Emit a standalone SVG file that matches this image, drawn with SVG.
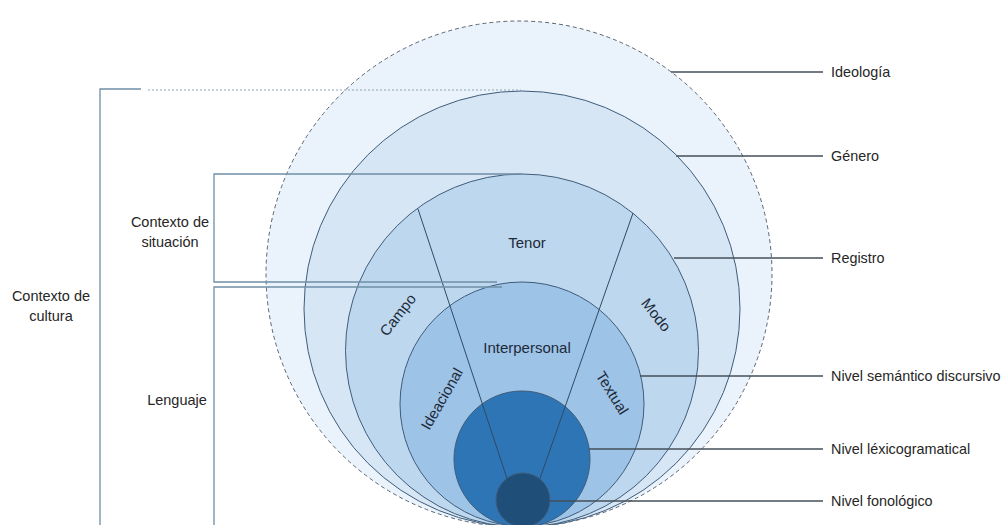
<svg xmlns="http://www.w3.org/2000/svg" width="1003" height="525" viewBox="0 0 1003 525">
<style>
.c{stroke:#3f5d7a;stroke-width:1}
.lead{stroke:#454f59;stroke-width:1.3;fill:none}
.br{stroke:#6f8ea6;stroke-width:1.3;fill:none}
.lbl{font-family:"Liberation Sans",Arial,sans-serif;font-size:14.4px;fill:#262626}
.in{font-family:"Liberation Sans",Arial,sans-serif;font-size:15px;fill:#1e2a3a;text-anchor:middle}
.lt{font-family:"Liberation Sans",Arial,sans-serif;font-size:14.5px;fill:#262626;text-anchor:middle}
</style>
<rect width="1003" height="525" fill="#ffffff"/>
<g id="ideologia"><circle cx="519" cy="274" r="253" fill="#eaf2fb" stroke="#5a6470" stroke-width="1" stroke-dasharray="4,3"/></g>
<g id="genero"><circle cx="522" cy="309" r="218" fill="#d7e6f5" class="c"/></g>
<g id="registro"><circle cx="522" cy="350.5" r="176.5" fill="#bdd7ee" class="c"/></g>
<g id="semantico"><circle cx="522" cy="404" r="122" fill="#9dc3e6" class="c"/></g>
<g id="lexico"><circle cx="522" cy="459" r="68" fill="#2e75b6" class="c"/></g>
<g id="connectors">
<line x1="523" y1="527" x2="418" y2="209" stroke="#2f4a66" stroke-width="1"/>
<line x1="523" y1="527" x2="633" y2="213" stroke="#2f4a66" stroke-width="1"/>
</g>
<g id="fonologico"><circle cx="523" cy="500" r="27" fill="#1f4e79" class="c"/></g>
<g id="leaders">
<line class="lead" x1="671" y1="72" x2="823" y2="72"/>
<line class="lead" x1="676" y1="156" x2="823" y2="156"/>
<line class="lead" x1="674" y1="258" x2="823" y2="258"/>
<line class="lead" x1="640" y1="376" x2="823" y2="376"/>
<line class="lead" x1="589" y1="449" x2="823" y2="449"/>
<line class="lead" x1="550" y1="501" x2="823" y2="501" stroke="#5d7285"/>
</g>
<g id="brackets">
<polyline class="br" points="141,89 100,89 100,525"/>
<line x1="148" y1="90" x2="521" y2="90" stroke="#8fa6b8" stroke-width="1.2" stroke-dasharray="2,2"/>
<polyline class="br" points="522,174 214,174 214,282 497,282"/>
<polyline class="br" points="502,287 214,287 214,525"/>
</g>
<g id="labels-right">
<text class="lbl" x="831" y="77">Ideología</text>
<text class="lbl" x="831" y="161">Género</text>
<text class="lbl" x="831" y="263">Registro</text>
<text class="lbl" x="831" y="381">Nivel semántico discursivo</text>
<text class="lbl" x="831" y="454">Nivel léxicogramatical</text>
<text class="lbl" x="831" y="506">Nivel fonológico</text>
</g>
<g id="labels-left">
<text class="lt" x="51" y="301">Contexto de</text>
<text class="lt" x="51" y="321">cultura</text>
<text class="lt" x="170" y="227">Contexto de</text>
<text class="lt" x="170" y="247">situación</text>
<text class="lt" x="177" y="405">Lenguaje</text>
</g>
<g id="labels-inner">
<text class="in" x="527" y="248">Tenor</text>
<text class="in" x="527" y="353">Interpersonal</text>
<text class="in" transform="translate(398,315) rotate(-52)" y="5">Campo</text>
<text class="in" transform="translate(656,315) rotate(52)" y="5">Modo</text>
<text class="in" transform="translate(442,399) rotate(-60)" y="5">Ideacional</text>
<text class="in" transform="translate(612,393) rotate(58)" y="5">Textual</text>
</g>
</svg>
